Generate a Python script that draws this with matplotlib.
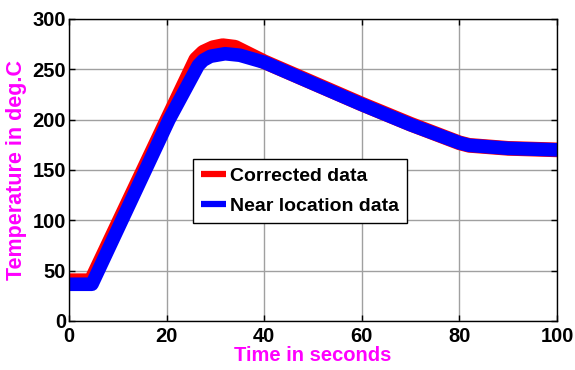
import matplotlib
matplotlib.use("Agg")
import matplotlib.pyplot as plt

plt.rcParams['font.family'] = ['Liberation Sans', 'DejaVu Sans']
plt.rcParams['font.weight'] = 'bold'

# corrected data (band centre)
t_corr = [0, 4.5, 20.1, 26, 27.5, 29.5, 31.5, 34, 40, 50, 60, 70, 80, 82, 90, 100]
temp_corr = [40, 40, 200, 260, 267, 271.5, 273.5, 272, 257.5, 236.5, 215.5, 195.5, 177, 174.5, 171.5, 170]

# near location data
t_near = [0, 4.7, 20.5, 26.5, 27.5, 29, 32, 35, 40, 50, 60, 70, 80, 82, 90, 100]
temp_near = [36.5, 36.5, 200, 254, 259, 263, 265.5, 264, 257, 236, 215, 195, 177, 174.5, 171.5, 170]

x_ticks = [0, 20, 40, 60, 80, 100]
y_ticks = [0, 50, 100, 150, 200, 250, 300]

fig = plt.figure(figsize=(5.75, 3.7), dpi=100)
ax = fig.add_axes([69 / 575, 1 - 321 / 370, 488 / 575, 302 / 370])

ax.plot(t_corr, temp_corr, color='#ff0000', lw=10.6, solid_joinstyle='round',
        solid_capstyle='round', label='Corrected data')
ax.plot(t_near, temp_near, color='#0000ff', lw=9.8, solid_joinstyle='round',
        solid_capstyle='round', label='Near location data')

ax.set_xlim(0, 100)
ax.set_ylim(0, 300)
ax.set_xticks(x_ticks)
ax.set_yticks(y_ticks)
ax.grid(True, color='#a0a0a0', lw=1, ls='-')
ax.set_axisbelow(True)

ax.tick_params(direction='in', length=4, width=1, top=True, right=True,
               labelsize=14.5, colors='black')
ax.tick_params(axis='x', pad=4)
ax.tick_params(axis='y', pad=2)
for lbl in ax.get_xticklabels() + ax.get_yticklabels():
    lbl.set_fontweight('bold')
for s in ax.spines.values():
    s.set_linewidth(1)
    s.set_color('black')

ax.set_xlabel('Time in seconds', color='#ff00ff', fontsize=14.5,
              fontweight='bold', labelpad=0)
ax.set_ylabel('Temperature in deg.C', color='#ff00ff', fontsize=15.5,
              fontweight='bold', labelpad=4)

leg = ax.legend(loc='upper left', bbox_to_anchor=(0.254, 0.536), fontsize=14,
                frameon=True, fancybox=False, edgecolor='black', framealpha=1,
                handlelength=1.3, handletextpad=0.2, borderpad=0.4,
                labelspacing=0.65, borderaxespad=0)
leg.get_frame().set_linewidth(1)
for ln in leg.get_lines():
    ln.set_linewidth(4.5)
    ln.set_solid_capstyle('butt')

plt.savefig('out.png', dpi=100)
plt.close()
